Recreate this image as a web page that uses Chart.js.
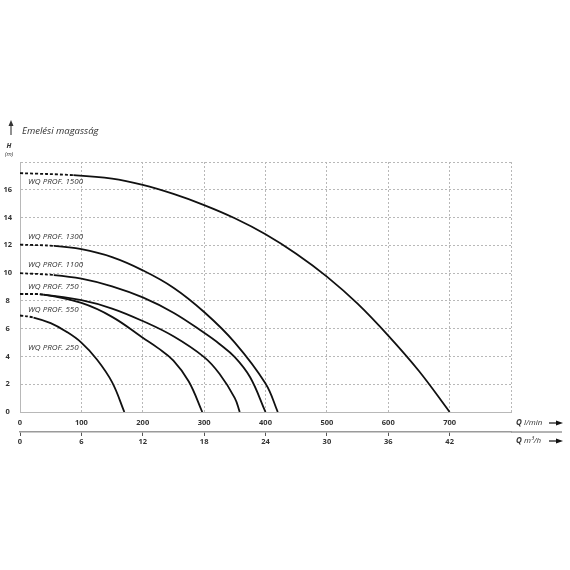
<!DOCTYPE html>
<html>
<head>
<meta charset="utf-8">
<script src="https://cdn.jsdelivr.net/npm/chart.js@4.4.1/dist/chart.umd.min.js"></script>
<style>
html, body { margin: 0; padding: 0; background: #fff; }
</style>
</head>
<body>
<canvas id="pumpChart" width="570" height="570"></canvas>
<script>
// pump curves, Q in l/min, H in m (first segment is the dashed part)
var pumpNames = ['WQ PROF. 1500', 'WQ PROF. 1300', 'WQ PROF. 1100', 'WQ PROF. 750', 'WQ PROF. 550', 'WQ PROF. 250']

var q1500 = [0, 87, 150, 200, 250, 300, 350, 400, 450, 500, 550, 600, 650, 700]
var h1500 = [17.2, 17.05, 16.8, 16.35, 15.7, 14.9, 13.95, 12.8, 11.4, 9.75, 7.8, 5.5, 2.95, 0]

var q1300 = [0, 55, 100, 150, 200, 250, 300, 350, 400, 420]
var h1300 = [12.05, 11.96, 11.72, 11.15, 10.2, 8.95, 7.2, 5.0, 2.05, 0]

var q1100 = [0, 55, 100, 150, 200, 250, 300, 325, 350, 375, 400]
var h1100 = [10, 9.86, 9.6, 9.05, 8.25, 7.15, 5.7, 4.9, 3.95, 2.5, 0]

var q750 = [0, 38, 100, 150, 200, 250, 300, 325, 350, 358]
var h750 = [8.5, 8.45, 8.05, 7.45, 6.55, 5.45, 3.95, 2.75, 1.0, 0]

var q550 = [0, 38, 100, 150, 200, 225, 250, 275, 297]
var h550 = [8.5, 8.45, 7.85, 6.85, 5.35, 4.6, 3.7, 2.2, 0]

var q250 = [0, 22, 50, 75, 100, 125, 150, 170]
var h250 = [6.95, 6.8, 6.4, 5.8, 5.0, 3.8, 2.15, 0]

var flowTicksLpm = [0, 100, 200, 300, 400, 500, 600, 700]
var flowTicksM3h = [0, 6, 12, 18, 24, 30, 36, 42]
var headTicks = [0, 2, 4, 6, 8, 10, 12, 14, 16]

// where the curve names sit (in chart units)
var labelQ = [13, 13, 13, 13, 13, 13]
var labelH = [16.6, 12.65, 10.6, 9.05, 7.4, 4.65]

var FONT = "'Open Sans', 'Noto Sans', sans-serif"
var GRID = '#b8b8b8'

function pts(q, h) {
    var out = []
    for (var i = 0; i < q.length; i++) out.push({ x: q[i], y: h[i] })
    return out
}

function curve(name, q, h) {
    return {
        label: name,
        data: pts(q, h),
        borderColor: '#111',
        borderWidth: 1.8,
        pointRadius: 0,
        fill: false,
        tension: 0.4,
        segment: {
            borderDash: function (ctx) { return ctx.p0DataIndex === 0 ? [3, 2] : undefined }
        }
    }
}

var extras = {
    id: 'extras',
    afterDraw: function (chart) {
        var c = chart.ctx
        var xs = chart.scales.x, ys = chart.scales.y, x2 = chart.scales.x2
        c.save()
        c.fillStyle = '#333'
        c.textBaseline = 'middle'

        // curve names
        c.font = 'italic 8px ' + FONT
        c.textAlign = 'left'
        for (var i = 0; i < pumpNames.length; i++) {
            c.fillText(pumpNames[i], xs.getPixelForValue(labelQ[i]), ys.getPixelForValue(labelH[i]))
        }

        // y axis caption
        c.font = 'italic 9.5px ' + FONT
        c.fillText('Emelési magasság', 22, 131)
        c.textAlign = 'center'
        c.font = 'bold italic 7px ' + FONT
        c.fillText('H', 9, 146)
        c.font = 'italic 6px ' + FONT
        c.fillText('(m)', 9, 154)

        c.strokeStyle = '#222'
        c.lineWidth = 1
        c.beginPath()
        c.moveTo(11, 135); c.lineTo(11, 124); c.stroke()
        c.beginPath()
        c.moveTo(8.5, 126); c.lineTo(11, 120); c.lineTo(13.5, 126); c.closePath(); c.fill()

        // extend the m3/h axis line
        c.strokeStyle = '#9a9a9a'
        c.lineWidth = 1.5
        c.beginPath()
        c.moveTo(xs.right, x2.top); c.lineTo(562, x2.top); c.stroke()

        // unit captions + arrows
        var rows = [{ y: 423, unit: 'l/min' }, { y: 441, unit: 'm³/h' }]
        rows.forEach(function (r) {
            c.textAlign = 'left'
            c.font = 'bold italic 8px ' + FONT
            c.fillText('Q', 516, r.y)
            var w = c.measureText('Q ').width
            c.font = 'italic 8px ' + FONT
            c.fillText(r.unit, 516 + w, r.y)
            c.strokeStyle = '#111'
            c.lineWidth = 1.2
            c.beginPath(); c.moveTo(549, r.y); c.lineTo(558, r.y); c.stroke()
            c.fillStyle = '#111'
            c.beginPath(); c.moveTo(556, r.y - 2.5); c.lineTo(563, r.y); c.lineTo(556, r.y + 2.5); c.closePath(); c.fill()
            c.fillStyle = '#333'
        })
        c.restore()
    }
}

var ctx = document.getElementById('pumpChart').getContext('2d')

var chart = new Chart(ctx, {
    type: 'line',
    data: {
        datasets: [
            curve(pumpNames[0], q1500, h1500),
            curve(pumpNames[1], q1300, h1300),
            curve(pumpNames[2], q1100, h1100),
            curve(pumpNames[3], q750, h750),
            curve(pumpNames[4], q550, h550),
            curve(pumpNames[5], q250, h250)
        ]
    },
    options: {
        responsive: false,
        animation: false,
        layout: { padding: { left: 0, right: 59, top: 162, bottom: 118 } },
        plugins: { legend: { display: false }, tooltip: { enabled: false } },
        scales: {
            x: {
                type: 'linear',
                position: 'bottom',
                min: 0, max: 800,
                afterBuildTicks: function (s) {
                    s.ticks = flowTicksLpm.concat([800]).map(function (v) { return { value: v } })
                },
                afterFit: function (s) { s.height = 20 },
                ticks: {
                    padding: 6,
                    maxRotation: 0,
                    color: '#333',
                    font: { family: FONT, size: 7.5, weight: 'bold' },
                    callback: function (v) { return flowTicksLpm.indexOf(v) >= 0 ? String(v) : '' }
                },
                grid: { color: GRID, lineWidth: 1, drawTicks: false },
                border: { display: true, color: GRID, dash: [2, 2] }
            },
            x2: {
                type: 'linear',
                position: 'bottom',
                min: 0, max: 48,
                afterBuildTicks: function (s) {
                    s.ticks = flowTicksM3h.map(function (v) { return { value: v } })
                },
                afterFit: function (s) { s.height = 20 },
                ticks: {
                    padding: 1,
                    maxRotation: 0,
                    color: '#333',
                    font: { family: FONT, size: 7.5, weight: 'bold' },
                    callback: function (v) { return String(v) }
                },
                grid: { drawOnChartArea: false, drawTicks: true, tickLength: 4, color: '#555', lineWidth: 1 },
                border: { display: true, color: '#9a9a9a', width: 1.5 }
            },
            y: {
                type: 'linear',
                min: 0, max: 18,
                afterBuildTicks: function (s) {
                    s.ticks = headTicks.concat([18]).map(function (v) { return { value: v } })
                },
                afterFit: function (s) { s.width = 20 },
                ticks: {
                    padding: 8,
                    crossAlign: 'center',
                    color: '#333',
                    font: { family: FONT, size: 7.5, weight: 'bold' },
                    callback: function (v) { return headTicks.indexOf(v) >= 0 ? String(v) : '' }
                },
                grid: { color: GRID, lineWidth: 1, drawTicks: false },
                border: { display: true, color: GRID, dash: [2, 2] }
            }
        }
    },
    plugins: [extras]
})
</script>
</body>
</html>
